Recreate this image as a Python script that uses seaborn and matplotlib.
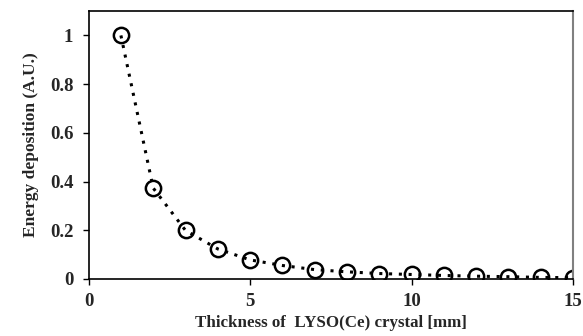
import seaborn as sns
import matplotlib.pyplot as plt
import pandas as pd

# Values
thickness = [1, 2, 3, 4, 5, 6, 7, 8, 9, 10, 11, 12, 13, 14, 15]
energy = [1.0, 0.373, 0.199, 0.123, 0.078, 0.055, 0.038, 0.029, 0.022,
          0.018, 0.014, 0.011, 0.009, 0.006, 0.005]

data = pd.DataFrame({"thickness": thickness, "energy": energy})

sns.set_theme(style="ticks")
plt.rcParams["font.family"] = ["Liberation Serif", "DejaVu Serif"]
plt.rcParams["font.weight"] = "bold"

fig = plt.figure(figsize=(5.83, 3.36), dpi=100)
ax = fig.add_axes([0.152, 0.170, 0.831, 0.797])

sns.lineplot(data=data, x="thickness", y="energy", ax=ax,
             color="black", linestyle=(0, (1, 2.2)), linewidth=2.2,
             marker="o", markersize=11, markerfacecolor="none",
             markeredgecolor="black", markeredgewidth=1.8)

ax.set_xlim(0, 15)
ax.set_ylim(0, 1.1)
ax.set_xticks([0, 5, 10, 15])
ax.set_xticklabels(["0", "5", "10", "15"])
ax.set_yticks([0, 0.2, 0.4, 0.6, 0.8, 1.0])
ax.set_yticklabels(["0", "0.2", "0.4", "0.6", "0.8", "1"])
ax.tick_params(axis="both", labelsize=13.5, direction="out", length=4,
               width=1, color="black")
ax.tick_params(axis="y", pad=7)
ax.tick_params(axis="x", pad=6)
for lab in ax.get_xticklabels() + ax.get_yticklabels():
    lab.set_fontweight("bold")

for side in ["left", "bottom", "top"]:
    ax.spines[side].set_color("black")
    ax.spines[side].set_linewidth(1.2)
ax.spines["right"].set_color("#808080")
ax.spines["right"].set_linewidth(1.5)

ax.set_xlabel("Thickness of  LYSO(Ce) crystal [mm]", fontsize=12.2,
              fontweight="bold", labelpad=4)
ax.set_ylabel("Energy deposition (A.U.)", fontsize=12.5,
              fontweight="bold", labelpad=8)

fig.savefig("out.png", dpi=100)
plt.close(fig)
